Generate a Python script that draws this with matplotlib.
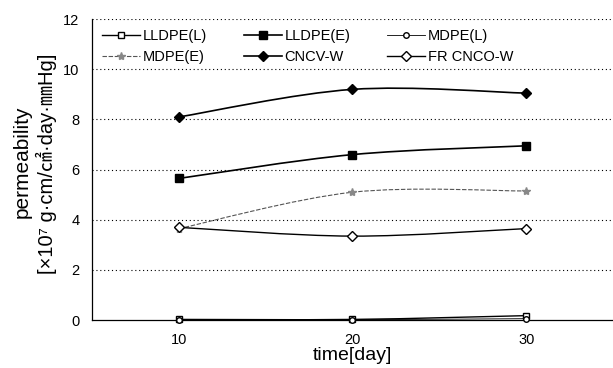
import numpy as np
import matplotlib
matplotlib.use('Agg')
import matplotlib.pyplot as plt
from matplotlib.path import Path
from matplotlib.patches import PathPatch

plt.rcParams['font.family'] = ['Liberation Sans', 'DejaVu Sans', 'Noto Sans CJK KR']

days = [10, 20, 30]
lldpe_l = [0.03, 0.03, 0.18]
lldpe_e = [5.65, 6.6, 6.95]
mdpe_l = [0.02, 0.02, 0.06]
mdpe_e = [3.65, 5.1, 5.15]
cncv_w = [8.1, 9.2, 9.05]
fr_cnco_w = [3.7, 3.35, 3.65]

labels = ['LLDPE(L)', 'LLDPE(E)', 'MDPE(L)', 'MDPE(E)', 'CNCV-W', 'FR CNCO-W']
series = [lldpe_l, lldpe_e, mdpe_l, mdpe_e, cncv_w, fr_cnco_w]
styles = [
    dict(marker='s', mfc='white', mec='black', color='black', lw=1.0, ms=5),
    dict(marker='s', mfc='black', mec='black', color='black', lw=1.2, ms=6),
    dict(marker='o', mfc='white', mec='black', color='black', lw=0.6, ms=4),
    dict(marker='*', mfc='#888888', mec='#888888', color='#555555', lw=0.8, ms=6),
    dict(marker='D', mfc='black', mec='black', color='black', lw=1.2, ms=5),
    dict(marker='D', mfc='white', mec='black', color='black', lw=1.0, ms=5),
]
linestyles = ['-', '-', '-', (0, (4, 1.5)), '-', '-']


def smooth_path(ax, x, y, color, lw, ls):
    # Catmull-Rom style bezier through the points (like a spreadsheet "smoothed line")
    pts = ax.transData.transform(np.column_stack([x, y]))
    verts = [pts[0]]
    codes = [Path.MOVETO]
    n = len(pts)
    for i in range(n - 1):
        p0 = pts[max(i - 1, 0)]
        p1 = pts[i]
        p2 = pts[i + 1]
        p3 = pts[min(i + 2, n - 1)]
        c1 = p1 + (p2 - p0) / 6.0
        c2 = p2 - (p3 - p1) / 6.0
        verts += [c1, c2, p2]
        codes += [Path.CURVE4] * 3
    verts = ax.transData.inverted().transform(np.array(verts))
    ax.add_patch(PathPatch(Path(verts, codes), fill=False, edgecolor=color,
                           lw=lw, linestyle=ls, zorder=2))


fig = plt.figure(figsize=(6.13, 3.68), dpi=100)
ax = fig.add_axes([0.150, 0.130, 0.850, 0.818])
ax.set_xlim(5, 35)
ax.set_ylim(0, 12)

for yv in range(2, 13, 2):
    ax.axhline(yv, color='black', lw=0.8, ls=(0, (1, 2.5)), zorder=1)

handles = []
for ys, lab, st, ls in zip(series, labels, styles, linestyles):
    smooth_path(ax, days, ys, st['color'], st['lw'], ls)
    ax.plot(days, ys, ls='none', marker=st['marker'], mfc=st['mfc'],
            mec=st['mec'], ms=st['ms'], mew=1.0, zorder=3, clip_on=False)
    h, = ax.plot([], [], ls=ls, color=st['color'], lw=st['lw'],
                 marker=st['marker'], mfc=st['mfc'], mec=st['mec'], ms=st['ms'])
    handles.append(h)

# legend fills row by row in the reference
order = [0, 3, 1, 4, 2, 5]
ax.legend([handles[i] for i in order], [labels[i] for i in order], ncol=3,
          loc='upper left', bbox_to_anchor=(0.0, 1.0),
          frameon=False, fontsize=10.5, handlelength=2.6, columnspacing=2.5,
          handletextpad=0.2, labelspacing=0.45, borderaxespad=0.3)

ax.spines['top'].set_visible(False)
ax.spines['right'].set_visible(False)
ax.spines['left'].set_linewidth(0.9)
ax.spines['bottom'].set_linewidth(0.9)
ax.set_xticks([10, 20, 30])
ax.set_yticks(range(0, 13, 2))
ax.tick_params(length=0, labelsize=10.5, pad=9)

ax.set_xlabel('time[day]', fontsize=14, labelpad=0)
fig.text(0.037, 0.56, 'permeability', rotation=90, fontsize=15,
         ha='center', va='center')
fig.text(0.076, 0.555, '[×10⁷ g·cm/㎠·day·㎜Hg]', rotation=90, fontsize=14.5,
         ha='center', va='center')

fig.savefig('out.png', dpi=100)
